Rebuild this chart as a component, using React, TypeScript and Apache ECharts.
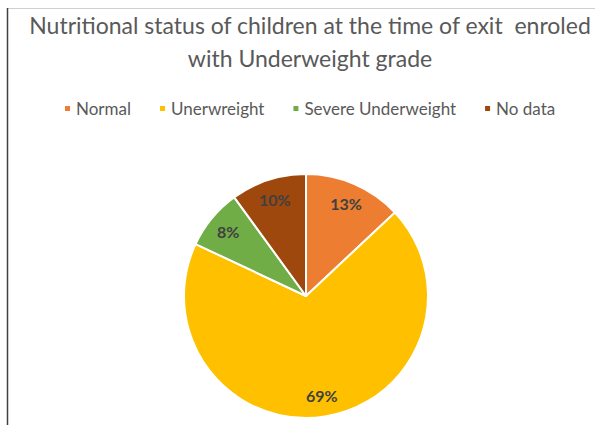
import React, { useEffect, useRef } from "react";
import * as echarts from "echarts";

const titleLines = ["Nutritional status of children at the time of exit  enroled", "with Underweight grade"];
const categories = ["Normal", "Unerwreight", "Severe Underweight", "No data"];
const values = [13, 69, 8, 10];
const colors = ["#ED7D31", "#FFC000", "#70AD47", "#9E480E"];

export default function App() {
  const ref = useRef<HTMLDivElement>(null);
  useEffect(() => {
    if (!ref.current) return;
    const chart = echarts.init(ref.current, null, { renderer: "svg" });
    const data = categories.map((name, i) => ({ name, value: values[i], itemStyle: { color: colors[i] } }));
    const labelData = categories.map((name, i) => ({ name, value: values[i] }));
    chart.setOption({
      animation: false,
      backgroundColor: "#ffffff",
      title: {
        text: titleLines.join("\n"),
        left: 305,
        textAlign: "center",
        top: 3,
        textStyle: { fontFamily: "Lato", fontSize: 23, fontWeight: "normal", color: "#595959", lineHeight: 33 },
      },
      legend: {
        data: categories,
        top: 95,
        left: 58,
        icon: "rect",
        itemWidth: 7,
        itemHeight: 7,
        itemGap: 27,
        textStyle: { fontFamily: "Lato", fontSize: 17, color: "#595959" },
      },
      graphic: [
        { type: "line", shape: { x1: 7, y1: 8.5, x2: 595, y2: 8.5 }, style: { stroke: "#d0d0d0", lineWidth: 1 } },
        { type: "line", shape: { x1: 7.5, y1: 8, x2: 7.5, y2: 425 }, style: { stroke: "#404040", lineWidth: 1.5 } },
      ],
      series: [
        {
          type: "pie",
          center: [306, 296],
          radius: [0, 122],
          startAngle: 90,
          clockwise: true,
          silent: true,
          label: { show: false },
          labelLine: { show: false },
          itemStyle: { borderColor: "#ffffff", borderWidth: 2 },
          data,
        },
        {
          type: "pie",
          center: [306, 296],
          radius: [74, 122],
          startAngle: 90,
          clockwise: true,
          silent: true,
          itemStyle: { color: "rgba(0,0,0,0)" },
          label: {
            show: true,
            position: "inside",
            formatter: "{c}%",
            fontFamily: "Lato",
            fontWeight: "bold",
            fontSize: 16,
            color: "#404040",
          },
          labelLine: { show: false },
          data: labelData,
        },
      ],
    });
    return () => chart.dispose();
  }, []);
  return <div ref={ref} style={{ position: "fixed", left: 0, top: 0, width: 595, height: 425 }} />;
}
